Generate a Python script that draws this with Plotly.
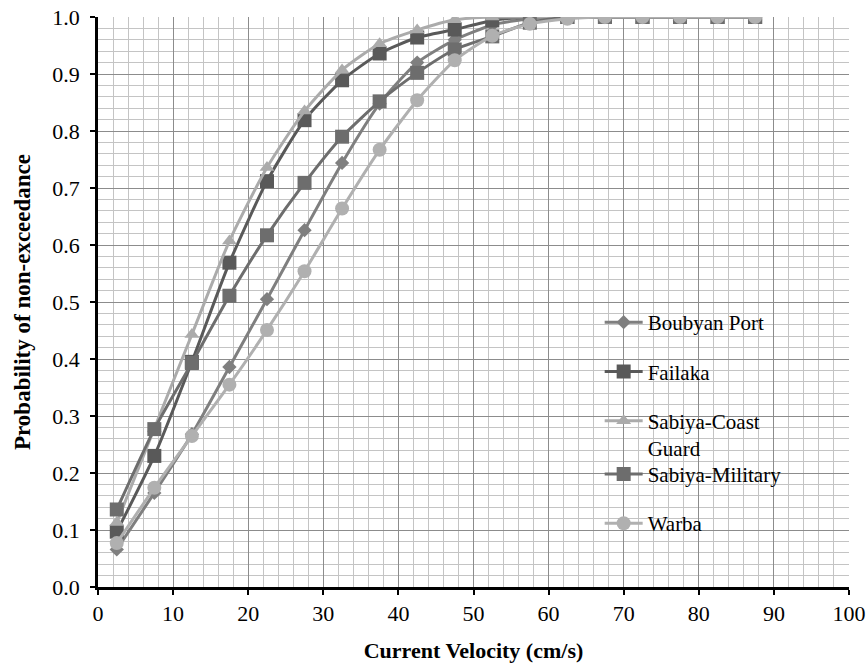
import plotly.graph_objects as go

velocity = [2.5, 7.5, 12.5, 17.5, 22.5, 27.5, 32.5, 37.5, 42.5, 47.5, 52.5, 57.5, 62.5, 67.5, 72.5, 77.5, 82.5, 87.5]

boubyan = [0.066, 0.165, 0.268, 0.386, 0.505, 0.626, 0.744, 0.848, 0.920, 0.960, 0.986, 0.997, 1.0, 1.0, 1.0, 1.0, 1.0, 1.0]
failaka = [0.097, 0.230, 0.395, 0.569, 0.712, 0.819, 0.889, 0.936, 0.964, 0.978, 0.994, 1.0, 1.0, 1.0, 1.0, 1.0, 1.0, 1.0]
sabiya_cg = [0.113, 0.278, 0.443, 0.607, 0.736, 0.835, 0.907, 0.953, 0.977, 0.995, 1.0, 1.0, 1.0, 1.0, 1.0, 1.0, 1.0, 1.0]
sabiya_mil = [0.136, 0.277, 0.393, 0.511, 0.617, 0.709, 0.790, 0.852, 0.902, 0.943, 0.966, 0.990, 1.0, 1.0, 1.0, 1.0, 1.0, 1.0]
warba = [0.077, 0.174, 0.265, 0.355, 0.451, 0.554, 0.664, 0.767, 0.854, 0.924, 0.967, 0.988, 0.997, 1.0, 1.0, 1.0, 1.0, 1.0]

series = [
    ("Boubyan Port", boubyan, "#7f7f7f", "diamond", 11, "legend"),
    ("Failaka", failaka, "#595959", "square", 14, "legend"),
    ("Sabiya-Coast<br>Guard", sabiya_cg, "#ababab", "triangle-up", 13, "legend"),
    ("Sabiya-Military", sabiya_mil, "#6d6d6d", "square", 14, "legend2"),
    ("Warba", warba, "#b0b0b0", "circle", 14, "legend2"),
]

fig = go.Figure()
for i, (name, vals, color, sym, size, leg) in enumerate(series):
    fig.add_trace(go.Scatter(
        x=velocity, y=vals, name=name, mode="lines+markers",
        line=dict(color=color, width=3, shape="spline", smoothing=0.6),
        marker=dict(symbol=sym, size=size, color=color),
        legendgroup=f"g{i}", legend=leg,
    ))

# white legend panel (below traces, above gridlines)
fig.add_shape(type="rect", xref="paper", yref="paper",
              x0=0.6525, x1=0.911, y0=0.0614, y1=0.4895,
              fillcolor="white", line=dict(width=0), layer="between")

font_family = "Liberation Serif"
legend_common = dict(
    xanchor="left", yanchor="top",
    bgcolor="rgba(0,0,0,0)", borderwidth=0,
    font=dict(family=font_family, size=21, color="black"),
    tracegroupgap=19, traceorder="grouped", valign="top",
    itemwidth=38,
)
fig.update_layout(
    width=867, height=669,
    margin=dict(l=98, r=18, t=17, b=82),
    plot_bgcolor="white", paper_bgcolor="white",
    font=dict(family=font_family, size=22, color="black"),
    showlegend=True,
    legend=dict(x=0.668, y=0.500, **legend_common),
    legend2=dict(x=0.668, y=0.2337, **legend_common),
    xaxis=dict(
        range=[0, 100], dtick=10, tick0=0, automargin=False,
        showline=True, linecolor="black", linewidth=2.5,
        ticks="outside", ticklen=5, tickwidth=2, tickcolor="black",
        ticklabelstandoff=0,
        showgrid=True, gridcolor="#8c8c8c", gridwidth=1,
        minor=dict(dtick=2, showgrid=True, gridcolor="#c4c4c4", gridwidth=1),
        zeroline=False,
        title=dict(text="<b>Current Velocity (cm/s)</b>", font=dict(family=font_family, size=22), standoff=18),
    ),
    yaxis=dict(
        range=[0, 1.0], dtick=0.1, tick0=0, tickformat=".1f", automargin=False,
        showline=True, linecolor="black", linewidth=2.5,
        ticks="outside", ticklen=5, tickwidth=2, tickcolor="black",
        ticklabelstandoff=6,
        showgrid=True, gridcolor="#8c8c8c", gridwidth=1,
        minor=dict(dtick=0.02, showgrid=True, gridcolor="#c4c4c4", gridwidth=1),
        zeroline=False,
        title=dict(text="<b>Probability of non-exceedance</b>", font=dict(family=font_family, size=23), standoff=16),
    ),
)

fig.write_html("out.html")
